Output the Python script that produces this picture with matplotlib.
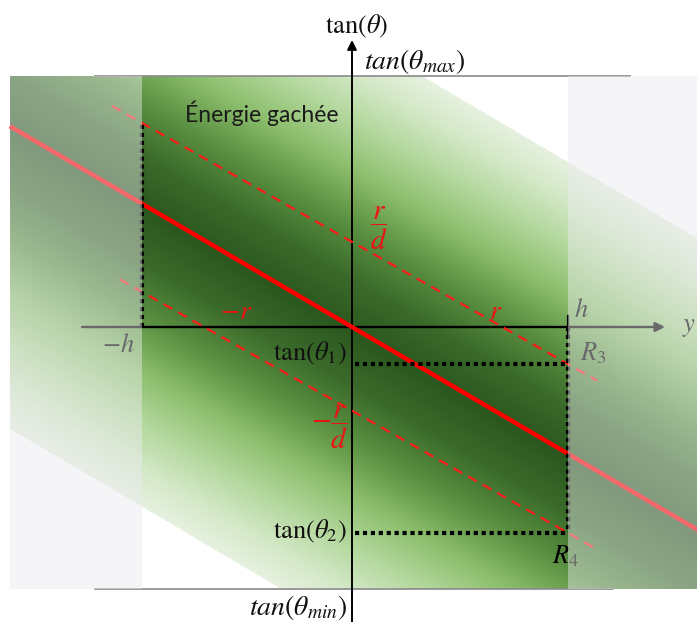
import numpy as np
import matplotlib
matplotlib.use('Agg')
import matplotlib.pyplot as plt
from matplotlib.colors import LinearSegmentedColormap
from matplotlib.patches import Polygon, Rectangle

plt.rcParams['mathtext.fontset'] = 'stix'

# ---------------- data (diagram units, h ~ 1) ----------------
h_bounds = [-0.98, 1.01]             # -h , h
tan_limits = [-1.224, 1.173]         # tan(theta_min), tan(theta_max)
main_slope = -0.587                  # red line : tan(theta) = main_slope * y
main_y = [-1.598, 1.62]
edge_slope = -0.566                  # dashed lines : tan(theta) = edge_slope * y +/- r/d
r_over_d = [0.398, -0.391]
upper_dash_y = [-1.121, 1.145]
lower_dash_y = [-1.084, 1.136]
tan_theta = [-0.173, -0.963]         # tan(theta1), tan(theta2)
r_cross = [-0.69, 0.70]              # -r , r
band_slope = -0.59
band_intercepts = [1.369, -1.421]
band_y = [-1.598, 1.62]
limit_line_y = [[-1.20, 1.22], [-1.20, 1.30]]

# ---------------- figure ----------------
W, H, DPI = 697, 622, 100
S = 214.0            # pixels per unit
OX, OY = 352.0, 327.0
fig = plt.figure(figsize=(W / DPI, H / DPI), dpi=DPI)
ax = fig.add_axes([0, 0, 1, 1])
ax.set_xlim(-OX / S, (W - OX) / S)
ax.set_ylim(-(H - OY) / S, OY / S)
ax.axis('off')


def P(px, py):
    return (px - OX) / S, (OY - py) / S


# gradient band
cmap = LinearSegmentedColormap.from_list('band', [
    (0.0, '#2b581f'), (0.18, '#3b6b2b'), (0.36, '#5a9041'),
    (0.55, '#8dbf6e'), (0.72, '#b4d89e'), (0.88, '#d5e9c9'), (1.0, '#e6f1df')])
ny, nx = 500, 700
yy = np.linspace(band_y[0], band_y[1], nx)
tt = np.linspace(tan_limits[0], tan_limits[1], ny)
Y, T = np.meshgrid(yy, tt)
center = (band_intercepts[0] + band_intercepts[1]) / 2
half = (band_intercepts[0] - band_intercepts[1]) / 2
d = np.abs(T - (band_slope * Y + center)) / half
img = cmap(np.clip(d, 0, 1))
img[..., 3] = (d <= 1).astype(float)
im = ax.imshow(img, extent=[band_y[0], band_y[1], tan_limits[0], tan_limits[1]],
               origin='lower', aspect='auto', interpolation='bilinear', zorder=0)
poly = [(band_y[0], band_slope * band_y[0] + band_intercepts[0]),
        (band_y[1], band_slope * band_y[1] + band_intercepts[0]),
        (band_y[1], band_slope * band_y[1] + band_intercepts[1]),
        (band_y[0], band_slope * band_y[0] + band_intercepts[1])]
clip = Polygon(poly, closed=True, transform=ax.transData, facecolor='none', edgecolor='none')
ax.add_patch(clip)
im.set_clip_path(clip)

# limit lines
for tl, xs in zip(tan_limits[::-1], limit_line_y[::-1]):
    ax.plot(xs, [tl, tl], color='#8a8a8a', lw=1.2, zorder=2)

# axes
ax.annotate('', xy=P(665, OY), xytext=P(82, OY),
            arrowprops=dict(arrowstyle='-|>', color='black', lw=1.7, mutation_scale=14,
                            shrinkA=0, shrinkB=0), zorder=3)
ax.annotate('', xy=P(OX, 40), xytext=P(OX, 625),
            arrowprops=dict(arrowstyle='-|>', color='black', lw=1.4, mutation_scale=14,
                            shrinkA=0, shrinkB=0), zorder=3)
ax.plot([h_bounds[1], h_bounds[1]], [P(0, 316)[1], P(0, 334)[1]], color='black', lw=1.6, zorder=3)

# red main line
ys = np.array(main_y)
ax.plot(ys, main_slope * ys, color='#ff0000', lw=3.2, solid_capstyle='butt', zorder=3)

# dashed lines
for c, yr in zip(r_over_d, [upper_dash_y, lower_dash_y]):
    ys = np.array(yr)
    ax.plot(ys, edge_slope * ys + c, color='#ff1a1a', lw=1.6, ls=(0, (4.5, 3)), zorder=3)

# dotted construction lines
dot = dict(color='black', lw=3.0, ls=(0, (1, 0.9)), dash_capstyle='butt', zorder=4)
top_left = edge_slope * h_bounds[0] + r_over_d[0]
ax.plot([h_bounds[0], h_bounds[0]], [0, top_left], **dot)
ax.plot([h_bounds[1], h_bounds[1]], [0, tan_theta[1]], **dot)
for tv in tan_theta:
    ax.plot([0.015, h_bounds[1]], [tv, tv], **dot)

# texts
k = '#111111'
red = '#ee1111'
ax.text(*P(357, 26), r'$\mathrm{tan}(\theta)$', ha='center', va='center', fontsize=19, color=k)
ax.text(*P(364, 62), r'$tan(\theta_{max})$', ha='left', va='center', fontsize=20, color=k)
ax.text(*P(347, 607), r'$tan(\theta_{min})$', ha='right', va='center', fontsize=20, color=k)
ax.text(*P(347, 353), r'$\mathrm{tan}(\theta_1)$', ha='right', va='center', fontsize=19, color=k, zorder=4)
ax.text(*P(347, 531), r'$\mathrm{tan}(\theta_2)$', ha='right', va='center', fontsize=19, color=k, zorder=4)
ax.text(*P(185, 113), 'Énergie gachée', ha='left', va='center', fontsize=16.5,
        family=['Lato', 'DejaVu Sans'], color='#1a1a1a', zorder=4)
ax.text(*P(379, 228), r'$\dfrac{r}{d}$', ha='center', va='center', fontsize=21, color=red, zorder=4)
ax.text(*P(330, 427), r'$-\dfrac{r}{d}$', ha='center', va='center', fontsize=21, color=red, zorder=4)
ax.text(r_cross[0] + 0.15, P(0, 311)[1], r'$-r$', ha='center', va='center', fontsize=20, color=red, zorder=4)
ax.text(r_cross[1] - 0.03, P(0, 311)[1], r'$r$', ha='center', va='center', fontsize=20, color=red, zorder=4)
ax.text(h_bounds[0] - 0.11, P(0, 345)[1], r'$-h$', ha='center', va='center', fontsize=19, color='black', zorder=4)
ax.text(h_bounds[1] + 0.06, P(0, 310)[1], r'$h$', ha='center', va='center', fontsize=19, color='black', zorder=4)
ax.text(*P(689, 326), r'$y$', ha='center', va='center', fontsize=19, color='black', zorder=4)
ax.text(*P(593, 353), r'$R_3$', ha='center', va='center', fontsize=19, color='black', zorder=4)
ax.text(*P(566, 556), r'$R_4$', ha='center', va='center', fontsize=19, color='black', zorder=4)

# whitening overlays outside [-h, h]
ov = dict(facecolor='#ebebf0', edgecolor='none', alpha=0.45, zorder=5)
ax.add_patch(Rectangle((band_y[0], tan_limits[0]), h_bounds[0] - band_y[0],
                       tan_limits[1] - tan_limits[0], **ov))
ax.add_patch(Rectangle((h_bounds[1], tan_limits[0]), band_y[1] - h_bounds[1],
                       tan_limits[1] - tan_limits[0], **ov))

fig.savefig('out.png', dpi=DPI)
